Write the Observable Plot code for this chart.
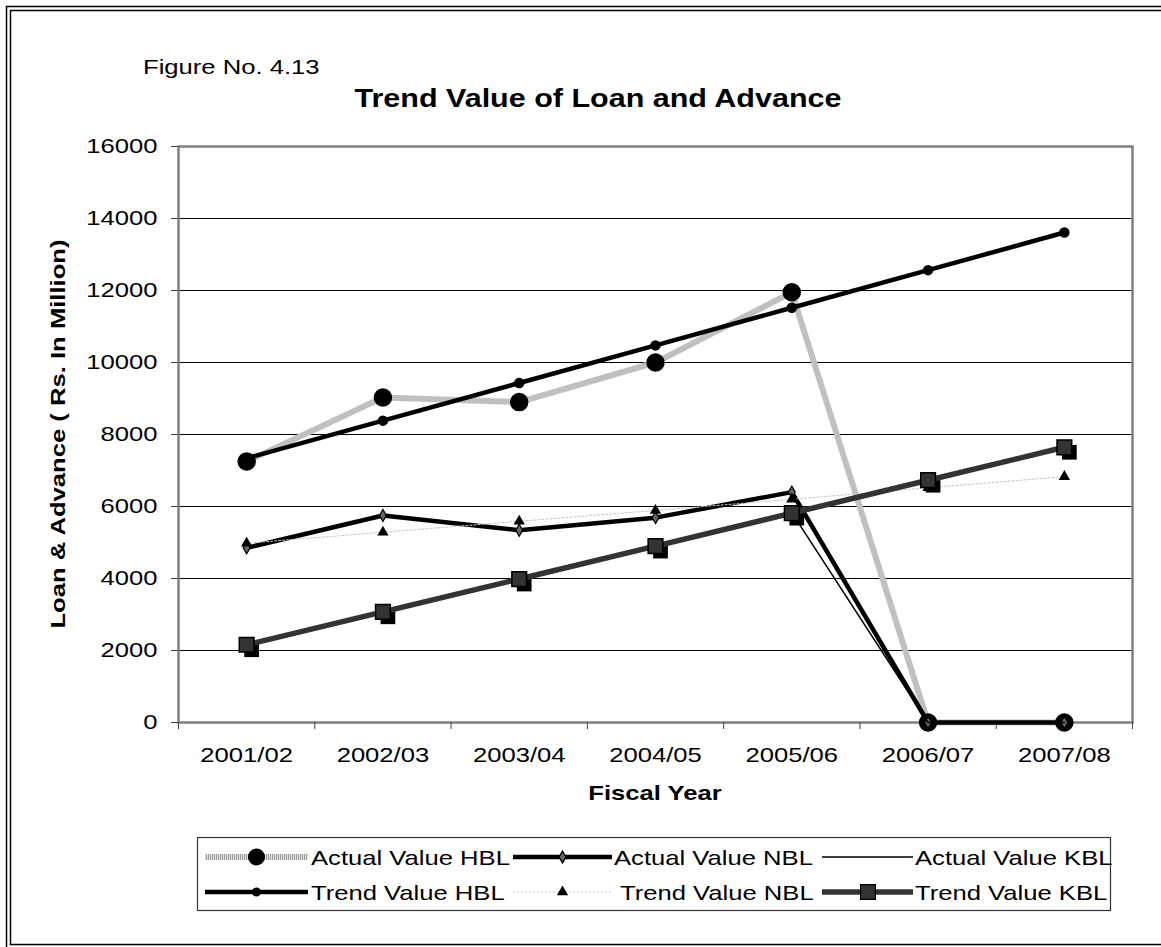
<!DOCTYPE html>
<html>
<head>
<meta charset="utf-8">
<script src="https://cdn.jsdelivr.net/npm/d3@7"></script>
<script src="https://cdn.jsdelivr.net/npm/@observablehq/plot@0.6"></script>
<style>
  body { margin: 0; background: #fff; }
  #chart { position: relative; width: 1161px; height: 947px; overflow: hidden; background: #fff;
           font-family: "Liberation Sans", Arial, sans-serif; }
  #chart svg { position: absolute; left: 0; top: 0; }
</style>
</head>
<body>
<div id="chart"></div>
<script>
// Fiscal years on the category axis
const years = ["2001/02", "2002/03", "2003/04", "2004/05", "2005/06", "2006/07", "2007/08"];

// Loan & advance, Rs. in million
const actualHBL = [7250, 9030, 8900, 10000, 11950, 0, 0];
const actualNBL = [4850, 5750, 5340, 5690, 6400, 0, 0];
const actualKBL = [2160, 3070, 3980, 4890, 5830, 0, 0];
const trendHBL  = [7340, 8385, 9430, 10475, 11520, 12565, 13610];
const trendNBL  = [4980, 5285, 5590, 5890, 6200, 6520, 6830];
const trendKBL  = [2160, 3075, 3985, 4900, 5815, 6730, 7645];

// Value axis ticks
const yTicks = [0, 2000, 4000, 6000, 8000, 10000, 12000, 14000, 16000];

const W = 1161, H = 947;
const FONT = '"Liberation Sans", Arial, sans-serif';
const STRETCH = 1.22; // wide lettering used throughout the figure

const rows = vals => vals.map((v, i) => ({i, v}));
const idx = years.map((_, i) => i);
const bounds = years.map((_, i) => i - 0.5).concat([years.length - 0.5]);

// Series styles, shared by the chart and its legend
const S = {
  aHBL: {stroke: "#bdbdbd", width: 6, hatch: true},
  aNBL: {stroke: "#000", width: 4.5},
  aKBL: {stroke: "#000", width: 1.5},
  tHBL: {stroke: "#000", width: 4.5},
  tNBL: {stroke: "#c8c8c8", width: 1, dash: "2,2"},
  tKBL: {stroke: "#333", width: 5.5}
};

const line = (vals, s) => Plot.line(rows(vals), {
  x: "i", y: "v", stroke: s.stroke, strokeWidth: s.width,
  strokeDasharray: s.dash, strokeLinejoin: "round", strokeLinecap: "round"
});

const chart = Plot.plot({
  width: W, height: H,
  marginLeft: 178, marginRight: 29, marginTop: 146, marginBottom: 225,
  style: {fontFamily: FONT, fontSize: "21px", color: "#000", background: "transparent", overflow: "visible"},
  x: {domain: [-0.5, years.length - 0.5]},
  y: {domain: [0, 16000]},
  marks: [
    Plot.ruleY(yTicks.filter(t => t > 0 && t < 16000), {stroke: "#000", strokeWidth: 1}),
    Plot.frame({stroke: "#808080", strokeWidth: 2.5}),
    Plot.axisY({ticks: yTicks, tickSize: 7, tickPadding: 14, tickFormat: d => String(d), label: null, stroke: "#444"}),
    Plot.axisX({ticks: bounds, tickSize: 7, tickFormat: () => "", label: null, stroke: "#444"}),
    Plot.axisX({ticks: idx, tickSize: 0, tickPadding: 25, tickFormat: i => years[i], label: null}),

    // Actual Value HBL
    line(actualHBL, S.aHBL),
    Plot.dot(rows(actualHBL), {x: "i", y: "v", r: 8.5, fill: "#000", stroke: "#000"}),
    // Actual Value NBL
    line(actualNBL, S.aNBL),
    Plot.dot(rows(actualNBL), {x: "i", y: "v", symbol: "diamond", r: 3.6, fill: "#666", stroke: "#000", strokeWidth: 1.2}),
    // Actual Value KBL
    line(actualKBL, S.aKBL),
    // Trend Value HBL
    line(trendHBL, S.tHBL),
    Plot.dot(rows(trendHBL), {x: "i", y: "v", r: 4.5, fill: "#000", stroke: "#000"}),
    // Trend Value NBL
    line(trendNBL, S.tNBL),
    Plot.dot(rows(trendNBL), {x: "i", y: "v", symbol: "triangle", r: 4.2, fill: "#000"}),
    // Trend Value KBL (square markers cast a shadow)
    Plot.dot(rows(trendKBL), {x: "i", y: "v", symbol: "square", r: 8.3, fill: "#000", dx: 5, dy: 5}),
    line(trendKBL, S.tKBL),
    Plot.dot(rows(trendKBL), {x: "i", y: "v", symbol: "square", r: 8.3, fill: "#333", stroke: "#000", strokeWidth: 1.5})
  ]
});

const root = document.getElementById("chart");
root.appendChild(chart);

// Titles, axis titles, frame and legend
const svg = d3.select(root).append("svg")
  .attr("width", W).attr("height", H)
  .style("pointer-events", "none")
  .attr("font-family", FONT);

// Vertical-stripe fill for the HBL actual line
const defs = svg.append("defs");
const pat = defs.append("pattern").attr("id", "hbl-hatch")
  .attr("patternUnits", "userSpaceOnUse").attr("width", 2).attr("height", 2);
pat.append("rect").attr("width", 2).attr("height", 2).attr("fill", "#e4e4e4");
pat.append("rect").attr("width", 1).attr("height", 2).attr("fill", "#9c9c9c");

d3.select(chart).selectAll('[stroke="#bdbdbd"]').attr("stroke", "url(#hbl-hatch)");

svg.append("rect").attr("x", 6.5).attr("y", 6.5).attr("width", W + 20).attr("height", H + 20)
  .attr("fill", "none").attr("stroke", "#000").attr("stroke-width", 1.5);
svg.append("rect").attr("x", 10.5).attr("y", 10.5).attr("width", W + 20).attr("height", 934)
  .attr("fill", "none").attr("stroke", "#000").attr("stroke-width", 1.5);

svg.append("text").attr("x", 143).attr("y", 74).attr("font-size", 21).text("Figure No. 4.13");
svg.append("text").attr("x", 598).attr("y", 107).attr("font-size", 25).attr("font-weight", "bold")
  .attr("text-anchor", "middle").text("Trend Value of Loan and Advance");
svg.append("text").attr("transform", "translate(65,434) rotate(-90)")
  .attr("font-size", 21).attr("font-weight", "bold").attr("text-anchor", "middle")
  .text("Loan & Advance ( Rs. In Million)");
svg.append("text").attr("x", 655).attr("y", 800).attr("font-size", 21).attr("font-weight", "bold")
  .attr("text-anchor", "middle").text("Fiscal Year");

// Legend
const legend = [
  {label: "Actual Value HBL", s: S.aHBL, row: 0, col: 0, mark: {type: d3.symbolCircle, r: 8.5, fill: "#000"}},
  {label: "Actual Value NBL", s: S.aNBL, row: 0, col: 1, mark: {type: d3.symbolDiamond, r: 3.6, fill: "#666", stroke: "#000"}},
  {label: "Actual Value KBL", s: S.aKBL, row: 0, col: 2, mark: null},
  {label: "Trend Value HBL",  s: S.tHBL, row: 1, col: 0, mark: {type: d3.symbolCircle, r: 4.5, fill: "#000"}},
  {label: "Trend Value NBL",  s: S.tNBL, row: 1, col: 1, mark: {type: d3.symbolTriangle, r: 4.2, fill: "#000"}},
  {label: "Trend Value KBL",  s: S.tKBL, row: 1, col: 2, mark: {type: d3.symbolSquare, r: 8.3, fill: "#333", stroke: "#000"}}
];
const lg = {x: 197, y: 837, w: 913, h: 73};
const colKey = [[205, 308], [513, 612], [822, 913]];
const colText = [[311, 311], [614, 620], [915, 915]];
const rowY = [857, 892];

svg.append("rect").attr("x", lg.x + 0.5).attr("y", lg.y + 0.5).attr("width", lg.w).attr("height", lg.h)
  .attr("fill", "#fff").attr("stroke", "#333").attr("stroke-width", 1.2);

for (const it of legend) {
  const [x0, x1] = colKey[it.col];
  const y = rowY[it.row];
  const g = svg.append("g");
  g.append("line").attr("x1", x0).attr("x2", x1).attr("y1", y).attr("y2", y)
    .attr("stroke", it.s.hatch ? "url(#hbl-hatch)" : it.s.stroke).attr("stroke-width", it.s.width)
    .attr("stroke-dasharray", it.s.dash || null);
  if (it.mark) {
    const cx = it.col === 2 ? 868 : (x0 + x1) / 2;
    g.append("path")
      .attr("d", d3.symbol(it.mark.type, Math.PI * it.mark.r * it.mark.r)())
      .attr("transform", `translate(${cx},${y})`)
      .attr("fill", it.mark.fill)
      .attr("stroke", it.mark.stroke || "none")
      .attr("stroke-width", 1.3);
  }
  g.append("text").attr("x", colText[it.col][it.row]).attr("y", y + 7.5)
    .attr("font-size", 21).text(it.label);
}

// Widen every label horizontally
root.querySelectorAll("text").forEach(t => {
  const len = t.getComputedTextLength();
  if (len > 0) {
    t.setAttribute("textLength", (len * STRETCH).toFixed(1));
    t.setAttribute("lengthAdjust", "spacingAndGlyphs");
  }
});
</script>
</body>
</html>
